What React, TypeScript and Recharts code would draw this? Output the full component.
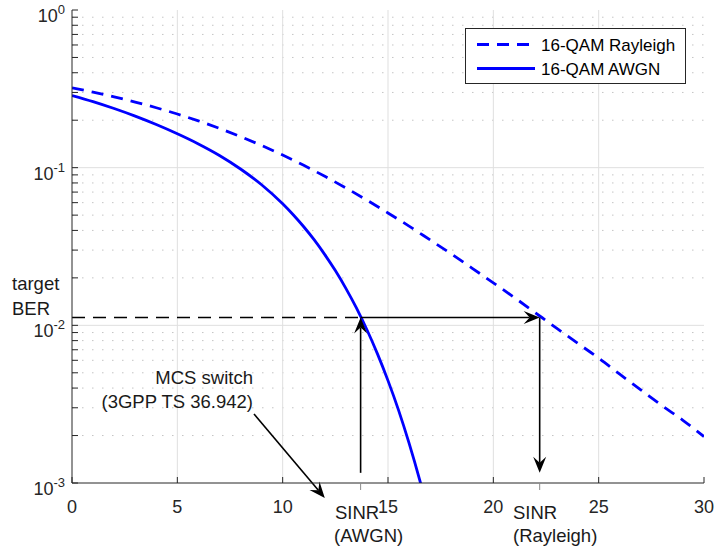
import {
  CartesianGrid,
  ComposedChart,
  Legend,
  Line,
  ReferenceLine,
  XAxis,
  YAxis,
} from 'recharts';

// BER curves (SNR in dB)
const awgnSnr = [0, 1, 2, 3, 4, 5, 6, 7, 8, 9, 10, 10.5, 11, 11.5, 12, 12.5, 13, 13.5, 14, 14.5, 15, 15.5, 16, 16.5, 17];
const awgnBer = [
  0.287, 0.2625, 0.2372, 0.2122, 0.1877, 0.164, 0.1414, 0.1195, 0.0981, 0.0779, 0.059, 0.0503, 0.0422, 0.0348,
  0.0281, 0.02224, 0.01716, 0.01289, 0.00937, 0.00659, 0.00446, 0.0029, 0.00179, 0.00105, 0.00058,
];
const rayleighSnr = [0, 1, 2, 3, 4, 5, 6, 7, 8, 9, 10, 11, 12, 13, 14, 15, 16, 17, 18, 19, 20, 21, 22, 23, 24, 25, 26, 27, 28, 29, 30];
const rayleighBer = [
  0.3205, 0.3013, 0.2813, 0.2608, 0.2399, 0.2189, 0.198, 0.1774, 0.1575, 0.1383, 0.1202, 0.1035, 0.0881, 0.0744,
  0.0622, 0.0516, 0.0426, 0.0348, 0.0284, 0.023, 0.0186, 0.015, 0.012, 0.0096, 0.0077, 0.0062, 0.0049, 0.0039,
  0.0031, 0.0025, 0.00197,
];

const seriesNames = ['16-QAM Rayleigh', '16-QAM AWGN'];
const xTicks = [0, 5, 10, 15, 20, 25, 30];
const xGrid = [5, 10, 15, 20, 25];
const yDecades = [0.001, 0.01, 0.1, 1];
const yMinor = [
  0.002, 0.003, 0.004, 0.005, 0.006, 0.007, 0.008, 0.009,
  0.02, 0.03, 0.04, 0.05, 0.06, 0.07, 0.08, 0.09,
  0.2, 0.3, 0.4, 0.5, 0.6, 0.7, 0.8, 0.9,
];

// annotation anchors (data units)
const targetBer = 0.0112;
const sinrAwgn = 13.7;
const sinrRayleigh = 22.2;
const arrowFloor = 0.00116;
const mcsFrom = { x: 8.64, y: 0.00274 };
const mcsTo = { x: 12.0, y: 0.000804 };

const awgnData = awgnSnr.map((snr, i) => ({ snr, ber: awgnBer[i] }));
const rayleighData = rayleighSnr.map((snr, i) => ({ snr, ber: rayleighBer[i] }));

const FONT = '"Liberation Sans", Arial, Helvetica, sans-serif';
const AXIS = '#262626';
const BLUE = '#0000ff';

function BottomTick(props: any) {
  const { x, y, payload } = props;
  const v = payload.value;
  if (v === sinrAwgn || v === sinrRayleigh) {
    return <line x1={x} x2={x} y1={y} y2={y + 7} stroke="#8c8c8c" strokeWidth={1} />;
  }
  return (
    <g>
      <line x1={x} x2={x} y1={y} y2={y - 6} stroke={AXIS} />
      <text x={x} y={y + 30} textAnchor="middle" fontSize={18} fontFamily={FONT} fill={AXIS}>
        {v}
      </text>
    </g>
  );
}

function TopTick(props: any) {
  const { x, y } = props;
  return <line x1={x} x2={x} y1={y} y2={y + 6} stroke={AXIS} />;
}

function LeftTick(props: any) {
  const { x, y, payload } = props;
  const v = payload.value;
  const exp = Math.round(Math.log10(v));
  const isDecade = yDecades.includes(v);
  return (
    <g>
      <line x1={x} x2={x + 6} y1={y} y2={y} stroke={AXIS} />
      {isDecade && (
        <text x={x - 7} y={y + 12} textAnchor="end" fontFamily={FONT} fill={AXIS} fontSize={18}>
          10
          <tspan dy={-8} fontSize={13}>
            {exp === 0 ? '0' : `-${Math.abs(exp)}`}
          </tspan>
        </text>
      )}
    </g>
  );
}

function RightTick(props: any) {
  const { x, y } = props;
  return <line x1={x} x2={x - 6} y1={y} y2={y} stroke={AXIS} />;
}

function Arrow(props: any) {
  const { x1, y1, x2, y2 } = props;
  const len = Math.hypot(x2 - x1, y2 - y1) || 1;
  const ux = (x2 - x1) / len;
  const uy = (y2 - y1) / len;
  const px = -uy;
  const py = ux;
  const L = 16;
  const W = 6.5;
  const N = 10;
  const bx = x2 - ux * L;
  const by = y2 - uy * L;
  const points = `${x2},${y2} ${bx + px * W},${by + py * W} ${x2 - ux * N},${y2 - uy * N} ${bx - px * W},${by - py * W}`;
  return (
    <g>
      <line x1={x1} y1={y1} x2={x2 - ux * N} y2={y2 - uy * N} stroke="#000" strokeWidth={1.6} />
      <polygon points={points} fill="#000" />
    </g>
  );
}

function LegendBox(props: any) {
  const payload = [...(props.payload || [])].sort(
    (a: any, b: any) => seriesNames.indexOf(a.value) - seriesNames.indexOf(b.value),
  );
  return (
    <div style={{ width: 221, height: 56, boxSizing: 'border-box', border: `1px solid ${AXIS}`, background: '#fff' }}>
      <svg width={219} height={54} style={{ display: 'block' }}>
        {payload.map((entry: any, i: number) => (
          <g key={entry.value}>
            <line
              x1={11}
              x2={69}
              y1={15.5 + i * 24}
              y2={15.5 + i * 24}
              stroke={BLUE}
              strokeWidth={2.8}
              strokeDasharray={entry.payload?.strokeDasharray}
            />
            <text x={75} y={21.5 + i * 24} fontSize={17} fontFamily={FONT} fill="#000">
              {entry.value}
            </text>
          </g>
        ))}
      </svg>
    </div>
  );
}

export default function App() {
  return (
    <div style={{ position: 'absolute', left: 0, top: 0, width: 714, height: 556, background: '#fff' }}>
      <ComposedChart width={714} height={556} margin={{ top: 10, right: 10, bottom: 0, left: 0 }}>
        <CartesianGrid horizontalValues={yMinor} vertical={false} stroke="#c4c4c4" strokeDasharray="1.5 8.5" />
        <CartesianGrid horizontalValues={[0.01, 0.1]} verticalValues={xGrid} stroke="#dfdfdf" />
        <XAxis
          dataKey="snr"
          type="number"
          domain={[0, 30]}
          ticks={[...xTicks, sinrAwgn, sinrRayleigh]}
          interval={0}
          allowDataOverflow
          height={73}
          tickSize={0}
          tickMargin={0}
          tickLine={false}
          tick={<BottomTick />}
          axisLine={{ stroke: AXIS }}
        />
        <XAxis
          xAxisId="top"
          orientation="top"
          type="number"
          domain={[0, 30]}
          ticks={xGrid}
          interval={0}
          height={0}
          tickSize={0}
          tickMargin={0}
          tickLine={false}
          tick={<TopTick />}
          axisLine={{ stroke: AXIS }}
        />
        <YAxis
          type="number"
          scale="log"
          domain={[0.001, 1]}
          ticks={[...yDecades, ...yMinor]}
          interval={0}
          allowDataOverflow
          width={72}
          tickSize={0}
          tickMargin={0}
          tickLine={false}
          tick={<LeftTick />}
          axisLine={{ stroke: AXIS }}
        />
        <YAxis
          yAxisId="right"
          orientation="right"
          type="number"
          scale="log"
          domain={[0.001, 1]}
          ticks={[...yDecades, ...yMinor]}
          interval={0}
          allowDataOverflow
          width={0}
          tickSize={0}
          tickMargin={0}
          tickLine={false}
          tick={<RightTick />}
          axisLine={{ stroke: AXIS }}
        />
        <Line
          data={rayleighData}
          dataKey="ber"
          name={seriesNames[0]}
          type="monotone"
          stroke={BLUE}
          strokeWidth={2.8}
          strokeDasharray="12 8"
          dot={false}
          activeDot={false}
          isAnimationActive={false}
        />
        <Line
          data={awgnData}
          dataKey="ber"
          name={seriesNames[1]}
          type="monotone"
          stroke={BLUE}
          strokeWidth={2.8}
          dot={false}
          activeDot={false}
          isAnimationActive={false}
        />
        <ReferenceLine
          segment={[{ x: 0, y: targetBer }, { x: sinrAwgn, y: targetBer }]}
          stroke="#000"
          strokeWidth={1.6}
          strokeDasharray="13 8"
        />
        <ReferenceLine segment={[{ x: sinrAwgn, y: targetBer }, { x: sinrRayleigh, y: targetBer }]} shape={Arrow} />
        <ReferenceLine segment={[{ x: sinrAwgn, y: arrowFloor }, { x: sinrAwgn, y: targetBer }]} shape={Arrow} />
        <ReferenceLine segment={[{ x: sinrRayleigh, y: targetBer }, { x: sinrRayleigh, y: arrowFloor }]} shape={Arrow} />
        <ReferenceLine segment={[mcsFrom, mcsTo]} shape={Arrow} ifOverflow="visible" />
        <Legend
          layout="horizontal"
          verticalAlign="middle"
          align="center"
          content={<LegendBox />}
          wrapperStyle={{ left: 465, top: 28, width: 221, height: 56 }}
        />
      </ComposedChart>
      <svg
        width={714}
        height={556}
        style={{ position: 'absolute', left: 0, top: 0, pointerEvents: 'none' }}
        fontFamily={FONT}
        fontSize={18.5}
        fill="#1a1a1a"
      >
        <text x={12} y={290}>target</text>
        <text x={12} y={315}>BER</text>
        <text x={253} y={384} textAnchor="end">MCS switch</text>
        <text x={253} y={408} textAnchor="end">(3GPP TS 36.942)</text>
        <text x={335} y={519}>SINR</text>
        <text x={334} y={542}>(AWGN)</text>
        <text x={513} y={519}>SINR</text>
        <text x={513} y={542}>(Rayleigh)</text>
      </svg>
    </div>
  );
}
